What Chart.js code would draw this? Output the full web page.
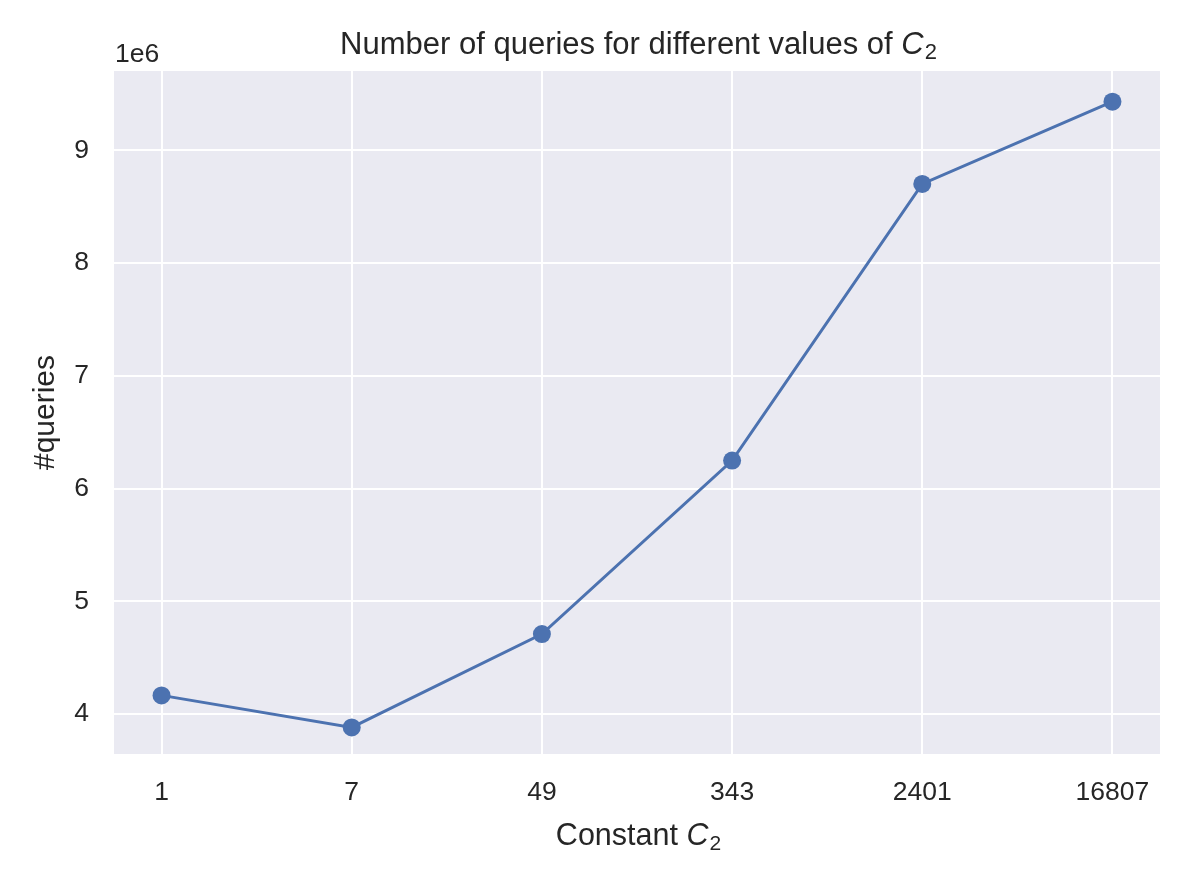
<!DOCTYPE html>
<html>
<head>
<meta charset="utf-8">
<script src="https://cdn.jsdelivr.net/npm/chart.js@4/dist/chart.umd.min.js"></script>
<style>
  html, body { margin: 0; padding: 0; background: #ffffff; }
  #wrap { width: 1196px; height: 878px; position: relative; }
</style>
</head>
<body>
<div id="wrap"><canvas id="c" width="1196" height="878"></canvas></div>
<script>
// ---- data ----
const categories = ["1", "7", "49", "343", "2401", "16807"];
const queries = [4165000, 3881000, 4709000, 6249000, 8703000, 9433000];
const yTickValues = [4000000, 5000000, 6000000, 7000000, 8000000, 9000000];
const titleText = "Number of queries for different values of ";
const xLabelText = "Constant ";
const yLabelText = "#queries";
const offsetText = "1e6";

const FONT = "'Liberation Sans', Arial, Helvetica, sans-serif";
const TEXT = "#262626";
const LINE = "#4C72B0";

const bgPlugin = {
  id: 'bg',
  beforeDraw(chart) {
    const {ctx, chartArea: a} = chart;
    ctx.save();
    ctx.fillStyle = '#EAEAF2';
    ctx.fillRect(a.left, a.top, a.right - a.left, a.bottom - a.top);
    ctx.restore();
  }
};

function drawMathLabel(ctx, plain, cx, baseline, size) {
  ctx.save();
  ctx.fillStyle = TEXT;
  ctx.textBaseline = 'alphabetic';
  ctx.textAlign = 'left';
  const fPlain = size + 'px ' + FONT;
  const fItal = 'italic ' + size + 'px ' + FONT;
  const subSize = Math.round(size * 0.7);
  const fSub = subSize + 'px ' + FONT;
  ctx.font = fPlain; const w1 = ctx.measureText(plain).width;
  ctx.font = fItal; const w2 = ctx.measureText('C').width;
  ctx.font = fSub; const w3 = ctx.measureText('2').width;
  let x = cx - (w1 + w2 + w3) / 2;
  ctx.font = fPlain; ctx.fillText(plain, x, baseline); x += w1;
  ctx.font = fItal; ctx.fillText('C', x, baseline); x += w2 + 1;
  ctx.font = fSub; ctx.fillText('2', x, baseline + size * 0.15);
  ctx.restore();
}

const textPlugin = {
  id: 'texts',
  afterDraw(chart) {
    const {ctx, chartArea: a} = chart;
    const cx = (a.left + a.right) / 2;
    drawMathLabel(ctx, titleText, cx + 1, 54, 31);
    drawMathLabel(ctx, xLabelText, cx + 1, 845, 30.5);
    ctx.save();
    ctx.fillStyle = TEXT;
    ctx.font = '30px ' + FONT;
    ctx.translate(54, (a.top + a.bottom) / 2);
    ctx.rotate(-Math.PI / 2);
    ctx.textAlign = 'center';
    ctx.textBaseline = 'alphabetic';
    ctx.fillText(yLabelText, 0, 0);
    ctx.restore();
    ctx.save();
    ctx.fillStyle = TEXT;
    ctx.font = '26.5px ' + FONT;
    ctx.textAlign = 'left';
    ctx.textBaseline = 'alphabetic';
    ctx.fillText(offsetText, a.left + 1, 62);
    ctx.restore();
  }
};

new Chart(document.getElementById('c'), {
  type: 'line',
  data: {
    datasets: [{
      data: queries.map((v, i) => ({x: i, y: v})),
      borderColor: LINE,
      backgroundColor: LINE,
      borderWidth: 3,
      pointRadius: 9,
      pointHoverRadius: 9,
      pointBackgroundColor: LINE,
      pointBorderWidth: 0,
      tension: 0,
      fill: false,
      clip: false
    }]
  },
  options: {
    responsive: false,
    animation: false,
    events: [],
    layout: { padding: { top: 71, right: 36, left: 0, bottom: 0 } },
    plugins: { legend: { display: false }, title: { display: false }, tooltip: { enabled: false } },
    scales: {
      x: {
        type: 'linear',
        min: -0.25,
        max: 5.25,
        afterBuildTicks(s) { s.ticks = categories.map((c, i) => ({value: i})); },
        afterFit(s) { s.height = 878 - 754; },
        border: { display: false },
        grid: { color: '#ffffff', lineWidth: 2, drawTicks: false },
        ticks: {
          padding: 25,
          maxRotation: 0,
          autoSkip: false,
          color: TEXT,
          font: { family: FONT, size: 26.5, lineHeight: 1 },
          callback: (v) => categories[v]
        }
      },
      y: {
        type: 'linear',
        min: 3645000,
        max: 9705000,
        afterBuildTicks(s) { s.ticks = yTickValues.map(v => ({value: v})); },
        afterFit(s) { s.width = 114; },
        border: { display: false },
        grid: { color: '#ffffff', lineWidth: 2, drawTicks: false },
        ticks: {
          padding: 25,
          color: TEXT,
          font: { family: FONT, size: 26.5, lineHeight: 1 },
          callback: (v) => String(v / 1000000)
        }
      }
    }
  },
  plugins: [bgPlugin, textPlugin]
});
</script>
</body>
</html>
